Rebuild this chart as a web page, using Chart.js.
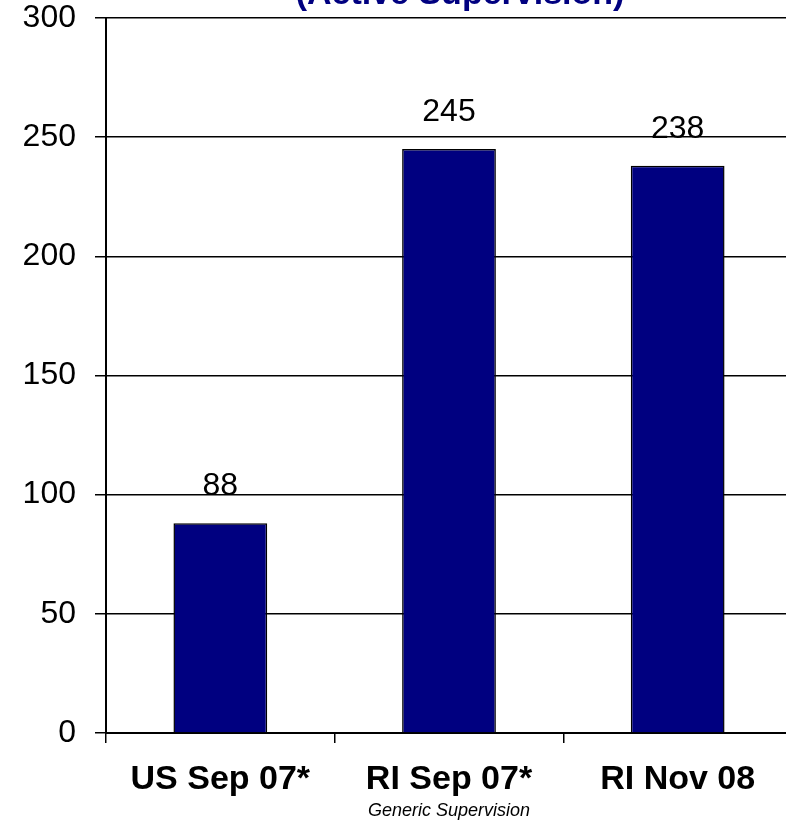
<!DOCTYPE html>
<html>
<head>
<meta charset="utf-8">
<script src="https://cdn.jsdelivr.net/npm/chart.js@4"></script>
<style>
  html, body { margin: 0; padding: 0; background: #fff; overflow: hidden; width: 786px; height: 824px; }
  #wrap { position: absolute; left: 0; top: -40px; width: 920px; height: 864px; }
</style>
</head>
<body>
<div id="wrap"><canvas id="c"></canvas></div>
<script>
const categories = ["US Sep 07*", "RI Sep 07*", "RI Nov 08"];
const values = [88, 245, 238];
const yTicks = [0, 50, 100, 150, 200, 250, 300];
const titleText = "(Active Supervision)";
const xAxisTitle = "Generic Supervision";

const FONT = "'Liberation Sans', Arial, Helvetica, sans-serif";

const valueLabels = {
  id: 'valueLabels',
  afterDatasetsDraw(chart) {
    const ctx = chart.ctx;
    const meta = chart.getDatasetMeta(0);
    ctx.save();
    ctx.font = "32px " + FONT;
    ctx.fillStyle = "#000";
    ctx.textAlign = "center";
    ctx.textBaseline = "alphabetic";
    meta.data.forEach((bar, i) => {
      ctx.fillText(String(values[i]), bar.x, bar.y - 28);
    });
    ctx.restore();
  }
};

// Chart title, partly cut off by the top edge as in the source picture
const topTitle = {
  id: 'topTitle',
  afterDraw(chart) {
    const ctx = chart.ctx;
    const ca = chart.chartArea;
    ctx.save();
    ctx.font = "bold 34px " + FONT;
    ctx.fillStyle = "#000080";
    ctx.textAlign = "center";
    ctx.textBaseline = "alphabetic";
    ctx.fillText(titleText, (ca.left + ca.right) / 2 + 11, ca.top - 14);
    ctx.restore();
  }
};

new Chart(document.getElementById('c'), {
  type: 'bar',
  data: {
    labels: categories,
    datasets: [{
      data: values,
      backgroundColor: '#000080',
      borderColor: '#000000',
      borderWidth: 1.5,
      barPercentage: 0.41,
      categoryPercentage: 1.0
    }]
  },
  options: {
    responsive: true,
    maintainAspectRatio: false,
    animation: false,
    layout: { padding: { left: 0, right: 128, top: 58, bottom: 0 } },
    plugins: {
      legend: { display: false },
      tooltip: { enabled: false },
      title: { display: false }
    },
    scales: {
      x: {
        offset: true,
        grid: {
          display: true,
          offset: true,
          drawOnChartArea: false,
          drawTicks: true,
          tickLength: 10,
          color: '#000',
          lineWidth: 1.5
        },
        border: { display: true, color: '#000', width: 2 },
        ticks: {
          color: '#000',
          padding: 16,
          maxRotation: 0,
          font: { family: FONT, size: 34, weight: 'bold' }
        },
        title: {
          display: true,
          text: xAxisTitle,
          color: '#000',
          font: { family: FONT, size: 18, style: 'italic' },
          padding: { top: 0, bottom: 2 }
        },
        afterFit(scale) { scale.height = 91; }
      },
      y: {
        min: 0,
        max: 300,
        afterBuildTicks(scale) { scale.ticks = yTicks.map(v => ({ value: v })); },
        grid: {
          display: true,
          drawOnChartArea: true,
          drawTicks: true,
          tickLength: 11,
          color: '#000',
          lineWidth: 1.5
        },
        border: { display: true, color: '#000', width: 2 },
        ticks: {
          color: '#000',
          padding: 19,
          font: { family: FONT, size: 32 }
        },
        afterFit(scale) { scale.width = 106; }
      }
    }
  },
  plugins: [valueLabels, topTitle]
});
</script>
</body>
</html>
